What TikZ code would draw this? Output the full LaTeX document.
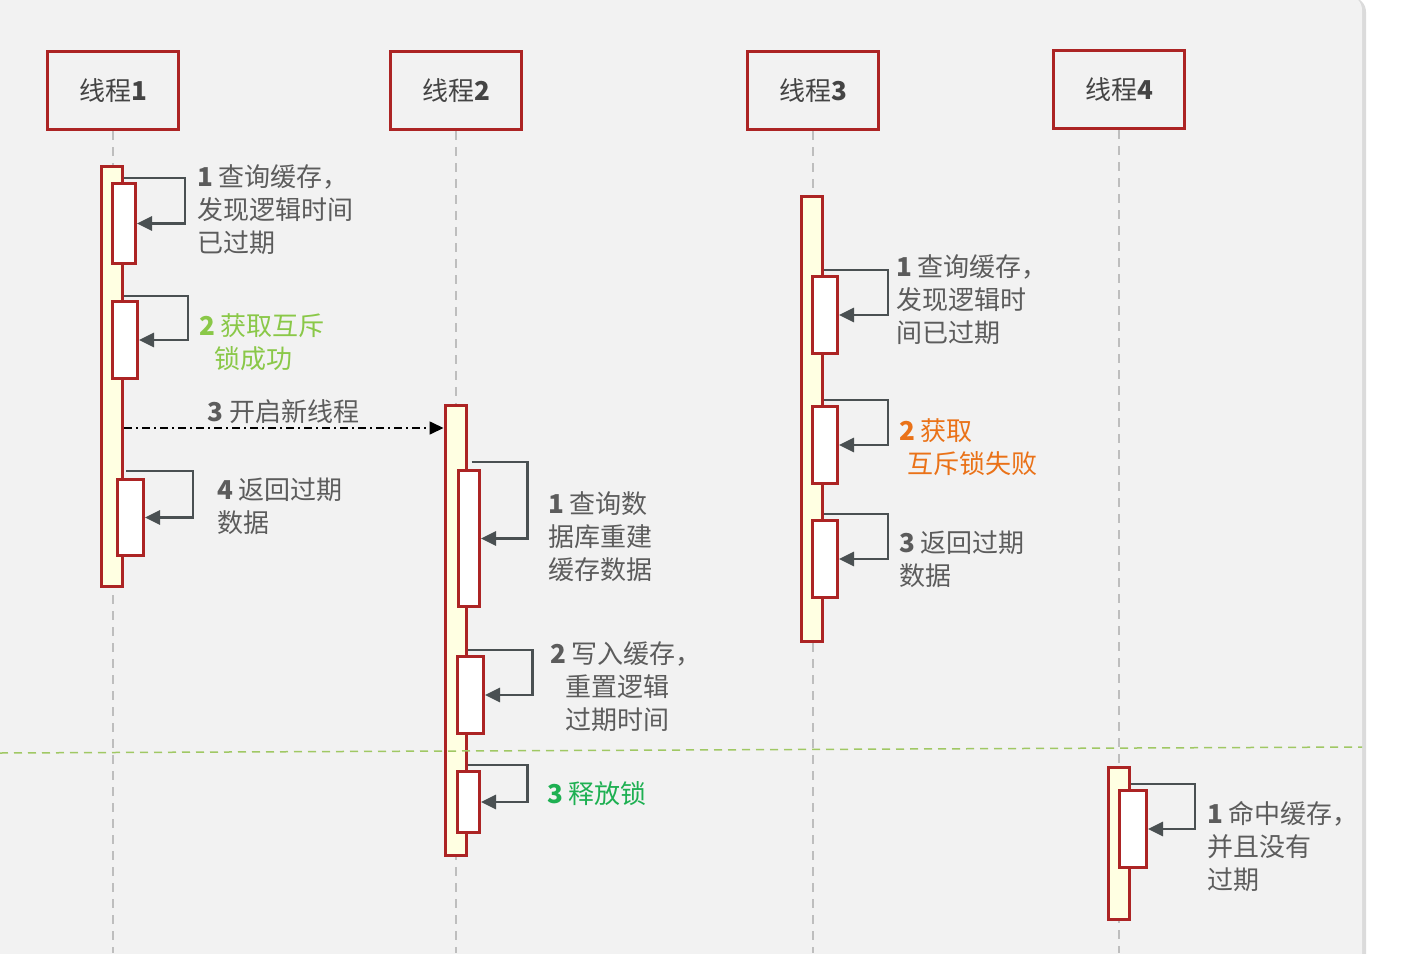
\documentclass[tikz,border=0pt]{standalone}
\usepackage{fontspec}
\setmainfont{Noto Sans CJK SC}
\usetikzlibrary{arrows.meta,calc}

\definecolor{boxred}{RGB}{172,36,36}
\definecolor{actyellow}{RGB}{255,255,226}
\definecolor{panelgray}{RGB}{242,242,242}
\definecolor{textgray}{RGB}{92,92,92}
\definecolor{headgray}{RGB}{68,68,68}
\definecolor{loopgray}{RGB}{74,80,82}
\definecolor{lifegray}{RGB}{190,190,190}
\definecolor{okgreen}{RGB}{138,200,72}
\definecolor{lockgreen}{RGB}{30,176,82}
\definecolor{failorange}{RGB}{234,114,24}
\definecolor{splitgreen}{RGB}{160,200,100}

\newcommand{\nr}[1]{{\bfseries #1}}

\begin{document}
\begin{tikzpicture}[x=1pt, y=-1pt,
	thread/.style={draw=boxred, line width=3pt, minimum width=131pt, minimum height=78pt, text=headgray, font=\fontsize{26}{30}\selectfont},
	actbar/.style={draw=boxred, fill=actyellow, line width=3pt, minimum width=21pt, anchor=north, inner sep=0},
	execbox/.style={draw=boxred, fill=white, line width=3pt, anchor=north west, inner sep=0},
	lifeline/.style={draw=lifegray, line width=2.2pt, dash pattern=on 9pt off 7pt},
	selfarr/.style={draw=loopgray, line width=2.7pt, -{Triangle[length=15pt,width=14pt]}},
	callarr/.style={black, line width=1.7pt, dash pattern=on 8pt off 4pt on 2pt off 4pt, -{Triangle[length=14pt,width=13pt]}},
	note/.style={anchor=north west, align=left, inner sep=0, text=textgray, font=\fontsize{26}{33}\selectfont}]
		\useasboundingbox (0,0) rectangle (1408,953);
		% panel
		\fill[black!14, rounded corners=15pt] (-30,-3) rectangle (1366,990);
		\fill[panelgray, rounded corners=15pt] (-30,-5) rectangle (1362,990);
		
		% threads
		\node[thread] (t1) at (113,90.5) {线程\nr{1}};
		\node[thread] (t2) at (456,90.5) {线程\nr{2}};
		\node[thread] (t3) at (813,90.5) {线程\nr{3}};
		\node[thread] (t4) at (1119,89.5) {线程\nr{4}};
		
		\coordinate (bottom) at (0,953);
		\draw[lifeline] (t1.south) -- (t1.south |- bottom);
		\draw[lifeline] (t2.south) -- (t2.south |- bottom);
		\draw[lifeline] (t3.south) -- (t3.south |- bottom);
		\draw[lifeline] (t4.south) -- (t4.south |- bottom);
		
		% activations
		\node[actbar, minimum height=420pt] (a1) at (112,165) {};
		\node[actbar, minimum height=450pt] (a2) at (455.5,404) {};
		\node[actbar, minimum height=445pt] (a3) at (812,195) {};
		\node[actbar, minimum height=152pt] (a4) at (1119,766) {};
		
		\node[execbox, minimum width=23pt, minimum height=80pt] (b11) at (111,182) {};
		\node[execbox, minimum width=25pt, minimum height=77pt] (b12) at (111,300) {};
		\node[execbox, minimum width=26pt, minimum height=76pt] (b14) at (116,478) {};
		
		\node[execbox, minimum width=21pt, minimum height=136pt] (b21) at (457,469) {};
		\node[execbox, minimum width=26pt, minimum height=77pt] (b22) at (456,655) {};
		\node[execbox, minimum width=22pt, minimum height=61pt] (b23) at (456,770) {};
		
		\node[execbox, minimum width=25pt, minimum height=77pt] (b31) at (811,275) {};
		\node[execbox, minimum width=25pt, minimum height=77pt] (b32) at (811,405) {};
		\node[execbox, minimum width=25pt, minimum height=77pt] (b33) at (811,519) {};
		
		\node[execbox, minimum width=27pt, minimum height=77pt] (b41) at (1118,789) {};
		
		% self calls
		\draw[selfarr] ($(a1.east |- b11.north)+(0,-4)$) -- ++(61,0) |- (b11.east);
		\draw[selfarr] ($(a1.east |- b12.north)+(0,-4)$) -- ++(64,0) |- (b12.east);
		\draw[selfarr] ($(a1.east |- b14.north)+(2,-7)$) -- ++(67,0) |- (b14.east);
		
		\draw[selfarr] ($(a2.east |- b21.north)+(4,-7)$) -- ++(56,0) |- (b21.east);
		\draw[selfarr] ($(a2.east |- b22.north)+(0,-5)$) -- ++(65,0) |- (b22.east);
		\draw[selfarr] ($(a2.east |- b23.north)+(0,-5)$) -- ++(60,0) |- (b23.east);
		
		\draw[selfarr] ($(a3.east |- b31.north)+(0,-5)$) -- ++(64,0) |- (b31.east);
		\draw[selfarr] ($(a3.east |- b32.north)+(0,-5)$) -- ++(64,0) |- (b32.east);
		\draw[selfarr] ($(a3.east |- b33.north)+(0,-5)$) -- ++(64,0) |- (b33.east);
		
		\draw[selfarr] ($(a4.east |- b41.north)+(0,-5)$) -- ++(64,0) |- (b41.east);
		
		% new thread
		\draw[callarr] ($(a1.east |- a2.north)+(0,24)$) -- ($(a2.north west)+(0,24)$) node[midway, above=3pt, inner sep=0, text=textgray, font=\fontsize{26}{33}\selectfont] (call) {\nr{3} 开启新线程};
		
		% labels
		\node[note] (n11) at (197,164) {\nr{1} 查询缓存，\\发现逻辑时间\\已过期};
		\node[note, text=okgreen] (n12) at (199,313) {\nr{2} 获取互斥\\\hspace*{15pt}锁成功};
		\node[note] (n14) at (217,478) {\nr{4} 返回过期\\数据};
		
		\node[note] (n21) at (548,491) {\nr{1} 查询数\\据库重建\\缓存数据};
		\node[note] (n22) at (550,641) {\nr{2} 写入缓存，\\\hspace*{15pt}重置逻辑\\\hspace*{15pt}过期时间};
		\node[note, text=lockgreen] (n23) at (547,781) {\nr{3} 释放锁};
		
		\node[note] (n31) at (896,254) {\nr{1} 查询缓存，\\发现逻辑时\\间已过期};
		\node[note, text=failorange] (n32) at (899,418) {\nr{2} 获取\\\hspace*{8pt}互斥锁失败};
		\node[note] (n33) at (899,531) {\nr{3} 返回过期\\数据};
		
		\node[note] (n41) at (1207,801) {\nr{1} 命中缓存，\\并且没有\\过期};
		
		% divider
		\coordinate (splitL) at (0,753);
		\coordinate (splitR) at (1362,747);
		\draw[splitgreen, line width=1.5pt, dash pattern=on 8pt off 6pt] (splitL) -- (splitR);
	\end{tikzpicture}
\end{document}
